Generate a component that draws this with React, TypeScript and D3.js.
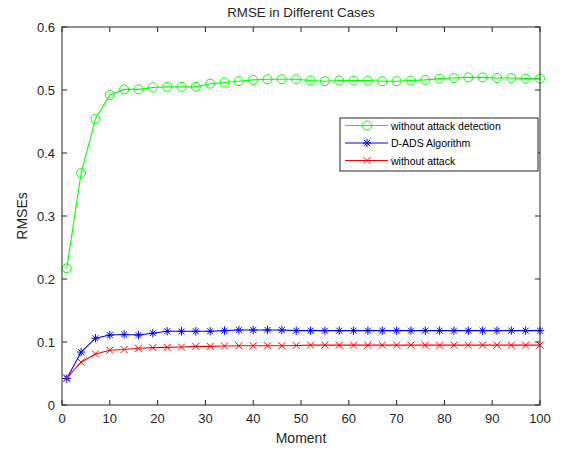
import React from "react";
import * as d3 from "d3";

const moments = [1,4,7,10,13,16,19,22,25,28,31,34,37,40,43,46,49,52,55,58,61,64,67,70,73,76,79,82,85,88,91,94,97,100];
const noDetection = [0.217,0.368,0.454,0.492,0.501,0.501,0.504,0.505,0.505,0.505,0.510,0.512,0.514,0.516,0.517,0.517,0.517,0.515,0.514,0.515,0.515,0.515,0.514,0.514,0.515,0.516,0.518,0.519,0.520,0.520,0.519,0.519,0.518,0.518];
const dads = [0.042,0.084,0.106,0.111,0.112,0.111,0.114,0.117,0.117,0.117,0.117,0.118,0.119,0.119,0.119,0.119,0.118,0.118,0.118,0.118,0.118,0.118,0.118,0.118,0.118,0.118,0.118,0.118,0.118,0.118,0.118,0.118,0.118,0.118];
const noAttack = [0.043,0.068,0.081,0.087,0.088,0.090,0.091,0.0915,0.092,0.093,0.093,0.0937,0.094,0.094,0.094,0.094,0.0945,0.095,0.095,0.095,0.095,0.095,0.095,0.095,0.095,0.095,0.095,0.095,0.095,0.095,0.095,0.095,0.095,0.095];
const xTicks = [0,10,20,30,40,50,60,70,80,90,100];
const yTicks = [0,0.1,0.2,0.3,0.4,0.5,0.6];
const seriesNames = ["without attack detection", "D-ADS Algorithm", "without attack"];

const L = 62, R = 540, T = 27, B = 405;
const axisColor = "#262626";
const font = "Liberation Sans, Arial, sans-serif";

const x = d3.scaleLinear().domain([0, 100]).range([L, R]);
const y = d3.scaleLinear().domain([0, 0.6]).range([B, T]);

function Marker({ kind, cx, cy, color }: { kind: string; cx: number; cy: number; color: string }) {
  if (kind === "o") return <circle cx={cx} cy={cy} r={4.5} fill="none" stroke={color} strokeWidth={1} />;
  if (kind === "x") {
    const s = 3.5;
    return <path d={`M${cx - s},${cy - s}L${cx + s},${cy + s}M${cx - s},${cy + s}L${cx + s},${cy - s}`} stroke={color} strokeWidth={1} />;
  }
  const s = 4.2, d = s * 0.707;
  return <path d={`M${cx - s},${cy}L${cx + s},${cy}M${cx},${cy - s}L${cx},${cy + s}M${cx - d},${cy - d}L${cx + d},${cy + d}M${cx - d},${cy + d}L${cx + d},${cy - d}`} stroke={color} strokeWidth={1} />;
}

export default function App() {
  const series = [
    { name: seriesNames[0], data: noDetection, color: "#00ff00", kind: "o" },
    { name: seriesNames[1], data: dads, color: "#0000ff", kind: "*" },
    { name: seriesNames[2], data: noAttack, color: "#ff0000", kind: "x" },
  ];
  const line = d3.line<number>().x((_, i) => x(moments[i])).y((d) => y(d));
  const legendX = 340, legendY = 118, legendW = 198, legendH = 53;
  return (
    <svg width={565} height={450} style={{ position: "absolute", left: 0, top: 0, background: "#fff" }}>
      <rect x={0} y={0} width={565} height={450} fill="#fff" />
      {series.map((s) => (
        <g key={s.name}>
          <path d={line(s.data) || ""} fill="none" stroke={s.color} strokeWidth={1.1} />
          {s.data.map((v, i) => (
            <Marker key={i} kind={s.kind} cx={x(moments[i])} cy={y(v)} color={s.color} />
          ))}
        </g>
      ))}
      <rect x={L} y={T} width={R - L} height={B - T} fill="none" stroke={axisColor} strokeWidth={1} />
      {xTicks.map((t) => (
        <g key={"x" + t}>
          <line x1={x(t)} x2={x(t)} y1={B} y2={B - 5} stroke={axisColor} />
          <line x1={x(t)} x2={x(t)} y1={T} y2={T + 5} stroke={axisColor} />
          <text x={x(t)} y={423} textAnchor="middle" fontFamily={font} fontSize={13} fill={axisColor}>{t}</text>
        </g>
      ))}
      {yTicks.map((t) => (
        <g key={"y" + t}>
          <line x1={L} x2={L + 5} y1={y(t)} y2={y(t)} stroke={axisColor} />
          <line x1={R} x2={R - 5} y1={y(t)} y2={y(t)} stroke={axisColor} />
          <text x={55} y={y(t) + 4.5} textAnchor="end" fontFamily={font} fontSize={13} fill={axisColor}>{t === 0 ? "0" : t.toFixed(1)}</text>
        </g>
      ))}
      <text x={(L + R) / 2} y={17} textAnchor="middle" fontFamily={font} fontSize={13.3} fill={axisColor}>RMSE in Different Cases</text>
      <text x={(L + R) / 2} y={443} textAnchor="middle" fontFamily={font} fontSize={14} fill={axisColor}>Moment</text>
      <text transform={`translate(27,${(T + B) / 2}) rotate(-90)`} textAnchor="middle" fontFamily={font} fontSize={14} fill={axisColor}>RMSEs</text>
      <rect x={legendX} y={legendY} width={legendW} height={legendH} fill="#fff" stroke={axisColor} strokeWidth={1} />
      {series.map((s, i) => {
        const ly = 125.5 + i * 17.5;
        return (
          <g key={"l" + s.name}>
            <line x1={345} x2={388} y1={ly} y2={ly} stroke={s.color} strokeWidth={1} />
            <Marker kind={s.kind} cx={367} cy={ly} color={s.color} />
            <text x={391} y={ly + 4} fontFamily={font} fontSize={10.5} fill="#000">{s.name}</text>
          </g>
        );
      })}
    </svg>
  );
}
